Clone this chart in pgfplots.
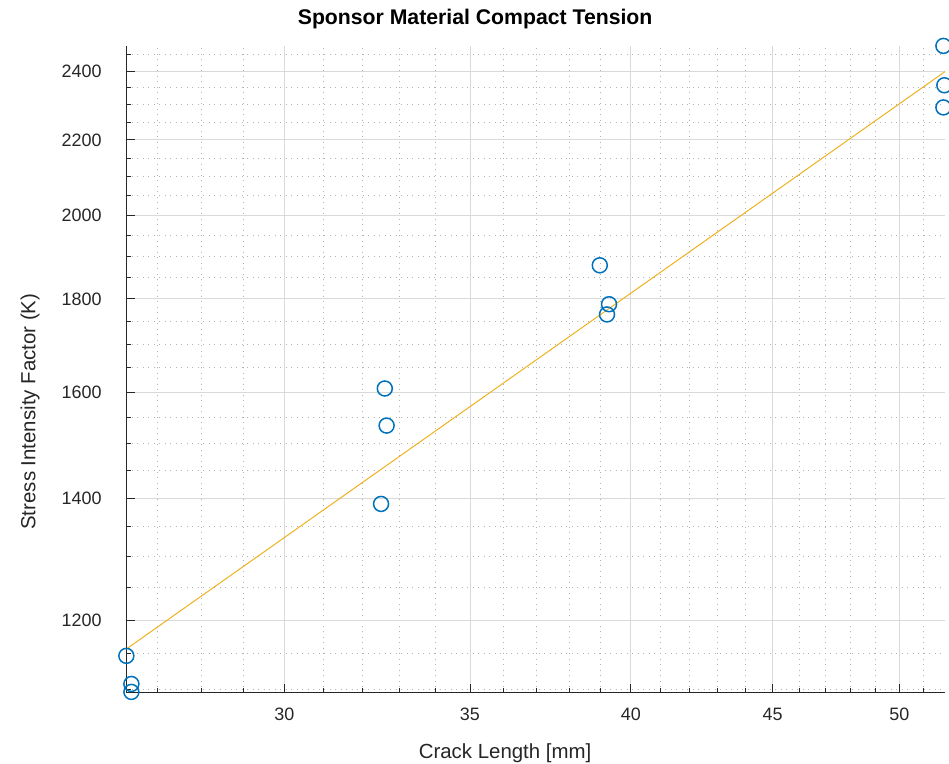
\documentclass[border=0pt]{standalone}
\usepackage{fontspec}
\setmainfont{Liberation Sans}
\usepackage{pgfplots}
\pgfplotsset{compat=1.18}
\definecolor{mblue}{rgb}{0,0.447,0.741}
\definecolor{morange}{rgb}{0.929,0.694,0.125}
\definecolor{axgray}{rgb}{0.15,0.15,0.15}
\begin{document}
\begin{tikzpicture}[x=1bp,y=1bp]
\useasboundingbox (0,0) rectangle (949,764);
\begin{axis}[
  at={(126.3bp,71.3bp)}, anchor=south west,
  scale only axis, width=818.7bp, height=646.7bp,
  xmode=log, ymode=log,
  xmin=26.31, xmax=51.93, ymin=1095, ymax=2477,
  axis x line*=bottom, axis y line*=left,
  axis line style={axgray, line width=1bp},
  /pgf/number format/assume math mode=true,
  xtick={30,35,40,45,50}, xticklabels={30,35,40,45,50},
  minor xtick={27,28,29,31,32,33,34,36,37,38,39,41,42,43,44,46,47,48,49,51},
  ytick={1200,1400,1600,1800,2000,2200,2400},
  yticklabels={1200,1400,1600,1800,2000,2200,2400},
  minor ytick={1100,1150,1250,1300,1350,1450,1500,1550,1650,1700,1750,1850,1900,1950,2050,2100,2150,2250,2300,2350,2450},
  log basis x=10, log basis y=10,
  tick align=inside,
  major tick length=9bp, minor tick length=4.5bp,
  tick style={axgray, line width=0.8bp},
  grid=both,
  major grid style={solid, color=black!15, line width=0.8bp},
  minor grid style={color=black!30, line width=0.8bp, dash pattern=on 1bp off 4.5bp},
  ticklabel style={font=\fontsize{18}{20}\selectfont, text=axgray},
  xticklabel style={inner sep=0pt, anchor=north, yshift=-15bp},
  yticklabel style={inner sep=0pt, anchor=east, xshift=-24.6bp},
  title={Sponsor Material Compact Tension},
  title style={font=\fontsize{21.3}{24}\selectfont\bfseries, at={(0.426,1)}, anchor=base, yshift=15bp, inner sep=0pt},
  xlabel={Crack Length [mm]},
  xlabel style={font=\fontsize{20.5}{24}\selectfont, text=axgray, at={(0.4626,0)}, anchor=base, yshift=-65.5bp, inner sep=0pt},
  ylabel={Stress Intensity Factor (K)},
  ylabel style={font=\fontsize{20.5}{24}\selectfont, text=axgray, at={(0,0.4345)}, anchor=base, yshift=91bp, inner sep=0pt},
  clip=false,
]
\addplot[morange, line width=1bp] coordinates {(26.31,1157) (51.93,2398)};
\addplot[only marks, mark=o, mark size=7.5bp, mblue, mark options={line width=1.5bp}] coordinates {
 (26.31,1147) (26.42,1107) (26.42,1096)
 (32.51,1389.5) (32.61,1607.5) (32.66,1534)
 (38.99,1878) (39.29,1788) (39.22,1765)
 (51.86,2477) (51.9,2357) (51.86,2292)
};
\end{axis}
\end{tikzpicture}
\end{document}
